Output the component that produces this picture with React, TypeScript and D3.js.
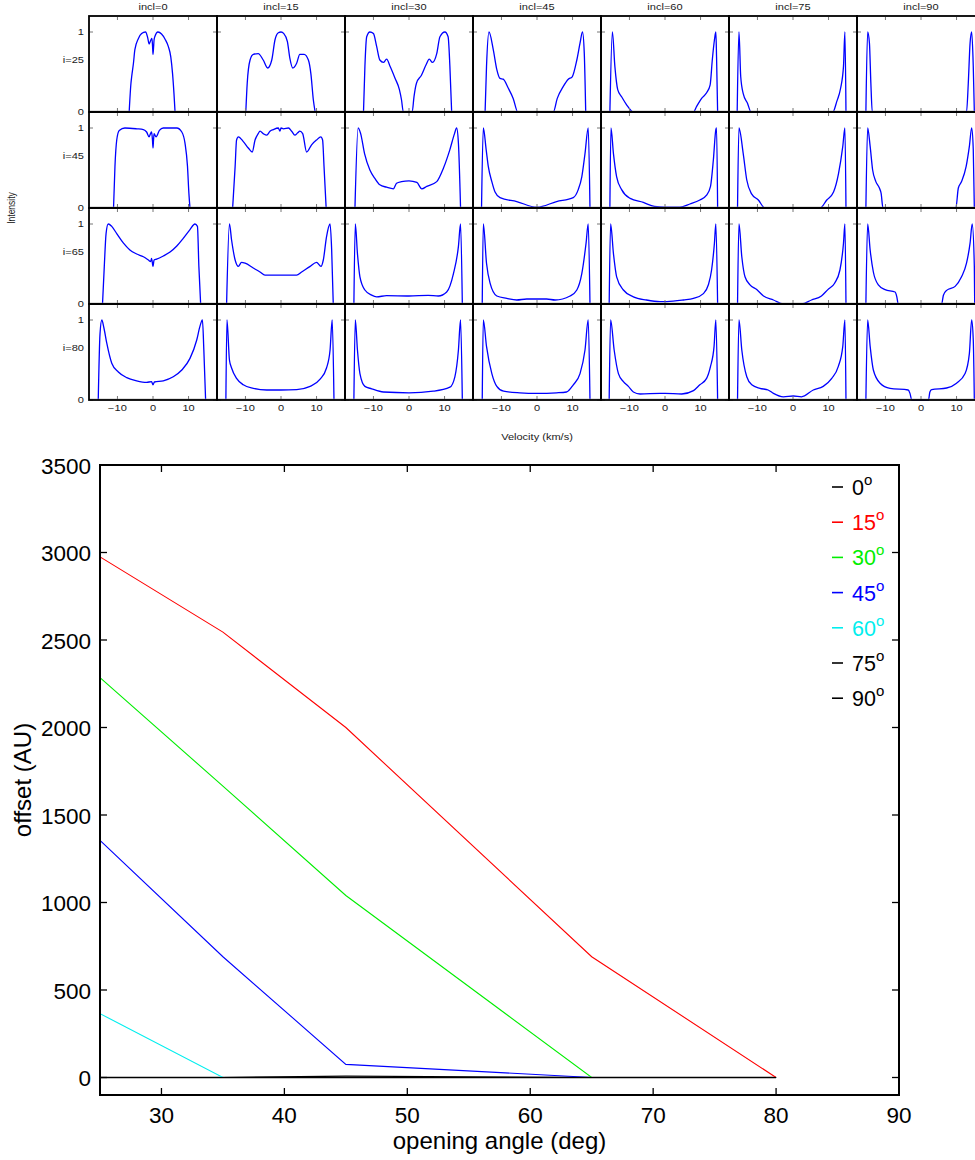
import React from 'react';
import * as d3 from 'd3';

// ---------- top grid: line profiles (velocity km/s, normalised intensity) ----------
const inclinations = [0, 15, 30, 45, 60, 75, 90];
const viewAngles = [25, 45, 65, 80];
const velocityTicks = [-10, 0, 10];
const intensityTicks = [0, 1];

type P = [number, number][];

const p25_0: P = [[-6.7,0],[-6.2,0.36],[-6.0,0.44],[-5.5,0.61],[-5.1,0.78],[-4.1,0.92],[-3.2,0.98],[-2.1,1.0],[-1.5,0.93],[-1.1,0.85],[-0.6,0.9],[-0.3,0.92],[-0.1,0.8],[0,0.72],[0.15,0.8],[0.3,0.9],[0.5,0.94],[1.4,1.0],[2.4,0.975],[3.4,0.91],[4.3,0.82],[5.0,0.69],[5.5,0.48],[5.9,0.23],[6.2,0]];
const p25_15: P = [[-9.9,0],[-9.5,0.36],[-8.7,0.65],[-7.8,0.72],[-6.4,0.73],[-5.0,0.65],[-3.75,0.55],[-2.6,0.65],[-1.7,0.9],[-0.75,0.99],[0,1.0],[0.8,0.98],[1.8,0.88],[2.5,0.67],[3.3,0.55],[4.4,0.61],[5.3,0.72],[6.5,0.72],[7.7,0.65],[8.4,0.48],[9.1,0.15],[9.6,0]];
const p25_30: P = [[-12.8,0],[-12.4,0.57],[-11.9,0.94],[-11.0,1.0],[-10.0,0.98],[-9.1,0.82],[-8.2,0.65],[-7.2,0.62],[-6.3,0.66],[-5.3,0.57],[-3.9,0.42],[-2.7,0.28],[-2.1,0.15],[-1.6,0],[0.9,0],[1.4,0.19],[2.1,0.36],[3.5,0.46],[4.8,0.59],[5.7,0.66],[6.6,0.62],[7.8,0.73],[8.7,0.94],[10.1,1.0],[11.0,0.94],[11.5,0.57],[12.0,0]];
const p25_45: P = [[-14.6,0],[-14.2,0.57],[-13.5,1.0],[-12.3,0.78],[-11.3,0.53],[-10.4,0.42],[-9.5,0.41],[-8.1,0.3],[-6.7,0.17],[-5.4,0],[4.6,0],[5.7,0.17],[7.4,0.32],[8.8,0.41],[9.9,0.44],[11.2,0.65],[12.1,0.86],[12.8,1.0],[13.3,0.73],[13.7,0]];
const p25_60: P = [[-15.5,0],[-14.8,1.0],[-14.1,0.57],[-13.3,0.28],[-12.2,0.19],[-10.8,0.09],[-8.9,0],[8.0,0],[8.9,0.07],[10.3,0.17],[11.7,0.24],[12.7,0.34],[13.3,0.65],[13.9,0.9],[14.3,1.0],[14.5,0.69],[14.8,0]];
const p25_75: P = [[-15.7,0],[-15.2,1.0],[-14.7,0.44],[-14.0,0.23],[-12.8,0.11],[-11.8,0],[11.2,0],[12.3,0.13],[13.4,0.3],[14.2,0.57],[14.6,1.0],[14.9,0]];
const p25_90: P = [[-15.5,0],[-15.0,1.0],[-14.5,0.86],[-14.1,0.36],[-13.7,0],[12.8,0],[13.3,0.36],[13.8,0.86],[14.25,1.0],[14.7,0.57],[15.0,0]];

const p45_0: P = [[-11.1,0],[-10.7,0.52],[-10.2,0.85],[-9.5,0.97],[-7.9,1.0],[-4.6,0.99],[-2.7,0.98],[-1.8,0.95],[-1.1,0.89],[-0.7,0.93],[-0.4,0.95],[-0.15,0.85],[0,0.75],[0.15,0.85],[0.3,0.93],[0.85,0.89],[1.8,0.97],[2.9,1.0],[6.7,1.0],[8.1,0.95],[9.0,0.81],[9.7,0.52],[10.1,0.18],[10.4,0]];
const p45_15: P = [[-13.6,0],[-12.9,0.52],[-12.5,0.85],[-12.0,0.89],[-10.6,0.83],[-9.2,0.75],[-8.1,0.7],[-7.3,0.85],[-6.4,0.93],[-5.9,0.96],[-5.0,0.93],[-4.0,0.91],[-3.1,0.96],[-2.2,0.98],[-0.75,1.0],[-0.3,0.96],[0,1.0],[0.7,0.99],[2.1,1.0],[3.0,0.96],[3.9,0.91],[4.7,0.94],[5.3,0.96],[6.1,0.93],[7.2,0.7],[8.6,0.79],[10.0,0.85],[11.2,0.89],[11.7,0.85],[12.1,0.52],[12.7,0]];
const p45_30: P = [[-15.2,0],[-14.3,1.0],[-13.6,0.93],[-12.5,0.68],[-11.0,0.475],[-9.6,0.37],[-8.2,0.29],[-6.3,0.26],[-4.4,0.24],[-3.5,0.31],[-2.1,0.33],[0,0.34],[2.2,0.32],[3.6,0.24],[5.0,0.27],[7.8,0.33],[9.7,0.5],[11.5,0.73],[12.8,0.93],[13.4,1.0],[13.9,0.81],[14.5,0]];
const p45_45: P = [[-15.6,0],[-15.1,1.0],[-14.3,0.73],[-13.7,0.52],[-12.7,0.33],[-11.8,0.2],[-10.4,0.13],[-5.7,0.08],[0,0.01],[5.5,0.08],[10.2,0.13],[11.6,0.23],[12.6,0.39],[13.5,0.68],[14.4,1.0],[14.9,0]];
const p45_60: P = [[-15.5,0],[-15.2,1.0],[-14.5,0.68],[-13.6,0.39],[-12.2,0.23],[-9.8,0.12],[-6.1,0.07],[-3.0,0.02],[0,0.01],[4.2,0.01],[7.0,0.05],[9.8,0.1],[11.7,0.16],[12.8,0.27],[13.6,0.6],[14.3,0.98],[14.5,1.0],[14.8,0]];
const p45_75: P = [[-15.6,0],[-15.2,1.0],[-14.0,0.68],[-13.0,0.35],[-11.7,0.18],[-9.75,0.1],[-7.9,0],[7.6,0],[9.5,0.1],[11.4,0.2],[12.8,0.43],[14.0,0.77],[14.6,1.0],[14.9,0]];
const p45_90: P = [[-15.5,0],[-15.0,1.0],[-14.3,0.77],[-13.6,0.475],[-12.7,0.33],[-11.7,0.25],[-11.2,0.18],[-10.7,0],[9.8,0],[10.5,0.25],[11.4,0.33],[12.7,0.52],[13.6,0.77],[14.25,1.0],[14.7,0.73],[15.0,0]];

const p65_0: P = [[-14.2,0],[-13.7,0.47],[-13.2,0.88],[-12.6,1.0],[-11.6,0.97],[-10.2,0.88],[-8.3,0.76],[-6.5,0.675],[-4.6,0.625],[-2.7,0.59],[-1.3,0.55],[-0.65,0.53],[-0.4,0.57],[0,0.47],[0.3,0.55],[1.0,0.56],[2.9,0.6],[4.8,0.65],[6.7,0.725],[8.5,0.82],[10.4,0.93],[11.8,1.0],[12.5,0.97],[12.9,0.47],[13.4,0]];
const p65_15: P = [[-15.3,0],[-14.5,1.0],[-13.9,0.8],[-12.9,0.55],[-12.0,0.47],[-11.1,0.52],[-10.1,0.51],[-7.8,0.45],[-5.9,0.4],[-4.5,0.36],[0,0.36],[4.4,0.36],[5.8,0.4],[8.2,0.47],[10.0,0.52],[11.25,0.47],[11.9,0.55],[12.8,0.84],[13.8,1.0],[14.25,0.675],[14.7,0]];
const p65_30: P = [[-15.5,0],[-15.1,1.0],[-14.5,0.63],[-13.8,0.34],[-12.4,0.175],[-10.5,0.11],[-9.1,0.09],[-6.3,0.104],[0,0.1],[5.4,0.108],[8.25,0.1],[10.6,0.15],[12.5,0.38],[13.9,0.72],[14.5,1.0],[15.0,0]];
const p65_45: P = [[-15.4,0],[-15.1,1.0],[-14.2,0.51],[-13.2,0.26],[-11.3,0.1],[-8.5,0.07],[-5.7,0.05],[-2.9,0.0625],[2.7,0.0625],[5.1,0.05],[9.3,0.1],[11.2,0.175],[12.6,0.38],[13.8,0.76],[14.4,1.0],[14.9,0]];
const p65_60: P = [[-15.7,0],[-15.3,1.0],[-14.5,0.63],[-13.6,0.34],[-11.7,0.175],[-8.9,0.09],[-5.2,0.05],[-1.4,0.03],[0.5,0.03],[5.2,0.05],[8.0,0.07],[10.8,0.13],[12.2,0.24],[13.1,0.425],[13.9,0.76],[14.3,1.0],[14.8,0]];
const p65_75: P = [[-15.6,0],[-15.2,1.0],[-14.4,0.59],[-13.5,0.34],[-12.1,0.24],[-10.2,0.18],[-8.3,0.1],[-5.5,0.05],[-2.7,0],[2.4,0],[5.2,0.05],[8.0,0.1],[9.8,0.18],[11.7,0.26],[13.2,0.425],[14.2,0.76],[14.6,1.0],[14.9,0]];
const p65_90: P = [[-15.5,0],[-15.0,1.0],[-14.3,0.675],[-13.4,0.4],[-12.0,0.24],[-10.1,0.18],[-7.3,0.15],[-6.8,0.09],[-6.4,0],[5.8,0],[6.3,0.11],[7.2,0.17],[9.6,0.22],[11.4,0.34],[12.8,0.51],[13.8,0.76],[14.4,1.0],[15.0,0.47],[15.1,0]];

const p80_0: P = [[-15.4,0],[-14.9,0.83],[-14.4,1.0],[-13.8,0.9],[-13.0,0.71],[-11.6,0.46],[-9.75,0.35],[-7.4,0.28],[-4.6,0.24],[-1.8,0.22],[-0.4,0.23],[0,0.19],[0.4,0.225],[2.9,0.24],[5.7,0.29],[8.1,0.375],[10.4,0.52],[12.3,0.75],[13.2,0.92],[13.9,1.0],[14.3,0.625],[14.8,0]];
const p80_15: P = [[-15.5,0],[-15.2,1.0],[-14.5,0.5],[-13.9,0.4],[-12.5,0.27],[-10.6,0.19],[-7.8,0.146],[-4.0,0.125],[0,0.125],[4.4,0.13],[8.2,0.17],[11.0,0.26],[12.8,0.4],[13.8,0.625],[14.4,1.0],[14.9,0]];
const p80_30: P = [[-15.5,0],[-15.1,1.0],[-14.5,0.625],[-13.8,0.33],[-12.4,0.17],[-10.5,0.14],[-7.2,0.1],[0,0.09],[6.8,0.11],[11.5,0.16],[12.9,0.29],[13.9,0.625],[14.5,1.0],[15.0,0]];
const p80_45: P = [[-15.4,0],[-15.1,1.0],[-14.2,0.67],[-12.7,0.33],[-11.3,0.17],[-9.4,0.11],[-4.8,0.09],[0,0.083],[5.5,0.09],[8.3,0.1],[10.2,0.19],[12.1,0.33],[13.5,0.625],[14.4,1.0],[14.9,0]];
const p80_60: P = [[-15.7,0],[-15.3,1.0],[-14.3,0.625],[-13.1,0.33],[-11.7,0.23],[-10.3,0.17],[-8.9,0.1],[-7.0,0.075],[-1.4,0.083],[0,0.083],[4.7,0.075],[8.0,0.117],[9.8,0.19],[11.7,0.27],[12.8,0.42],[13.8,0.67],[14.3,1.0],[14.8,0]];
const p80_75: P = [[-15.6,0],[-15.2,1.0],[-14.4,0.625],[-13.0,0.29],[-11.6,0.19],[-9.3,0.146],[-7.0,0.125],[-5.5,0.083],[-2.7,0.04],[0.1,0.05],[2.4,0.04],[5.7,0.125],[8.5,0.17],[10.9,0.27],[12.75,0.42],[14.0,0.67],[14.6,1.0],[14.9,0]];
const p80_90: P = [[-15.5,0],[-15.0,1.0],[-14.3,0.67],[-13.4,0.375],[-11.5,0.21],[-8.7,0.146],[-3.6,0.125],[-3.1,0.083],[-2.6,0],[2.1,0],[2.5,0.1],[3.0,0.13],[7.2,0.15],[10.0,0.21],[12.4,0.33],[13.6,0.58],[14.25,1.0],[14.7,0.75],[15.0,0]];

const profileGrid: P[][] = [
  [p25_0, p25_15, p25_30, p25_45, p25_60, p25_75, p25_90],
  [p45_0, p45_15, p45_30, p45_45, p45_60, p45_75, p45_90],
  [p65_0, p65_15, p65_30, p65_45, p65_60, p65_75, p65_90],
  [p80_0, p80_15, p80_30, p80_45, p80_60, p80_75, p80_90],
];

// ---------- bottom chart: offset vs opening angle ----------
const openingAngles = [25, 35, 45, 65, 80];
const offset0 = [0, 0, 0, 0, 0];
const offset15 = [2975, 2545, 2000, 690, 0];
const offset30 = [2285, 1665, 1040, 0, 0];
const offset45 = [1355, 690, 75, 0, 0];
const offset60 = [365, 0, 0, 0, 0];
const offset75 = [0, 0, 8, 0, 0];
const offset90 = [0, 0, 0, 0, 0];
const offsetSeries = [offset0, offset15, offset30, offset45, offset60, offset75, offset90];
const seriesLabels = ['0', '15', '30', '45', '60', '75', '90'];
const seriesColors = ['#000000', '#ff0000', '#00ee00', '#0000ff', '#00eeee', '#000000', '#000000'];
const offsetTicks = [0, 500, 1000, 1500, 2000, 2500, 3000, 3500];
const angleTicks = [30, 40, 50, 60, 70, 80, 90];

const FONT = '"Liberation Sans", Arial, Helvetica, sans-serif';

export default function App() {
  const W = 975, H = 1160;
  // grid geometry
  const gL = 89, gT = 16, cw = 128, ch = 96;
  const sx = 1.3; // horizontal stretch of small text
  const fs = 8.5;

  const panels: React.ReactNode[] = [];
  viewAngles.forEach((va, r) => {
    inclinations.forEach((inc, c) => {
      const x0 = gL + c * cw, y0 = gT + r * ch;
      const xs = d3.scaleLinear().domain([-18, 18]).range([x0, x0 + cw]);
      const ys = d3.scaleLinear().domain([0, 1.2]).range([y0 + ch, y0]);
      const line = d3.line<[number, number]>().x(d => xs(d[0])).y(d => ys(d[1])).curve(d3.curveMonotoneX);
      panels.push(
        <g key={`p${r}-${c}`}>
          <path d={line(profileGrid[r][c]) || ''} fill="none" stroke="#0000ff" strokeWidth={1.3} />
          <line x1={x0} x2={x0 + cw} y1={ys(0) - 0.8} y2={ys(0) - 0.8} stroke="#9a9a9a" strokeWidth={1} />
          {velocityTicks.map(t => (
            <g key={`vt${t}`}>
              <line x1={xs(t)} x2={xs(t)} y1={y0 + 1} y2={y0 + 4} stroke="#777" strokeWidth={1} />
              <line x1={xs(t)} x2={xs(t)} y1={y0 + ch - 1} y2={y0 + ch - 4} stroke="#777" strokeWidth={1} />
            </g>
          ))}
          {intensityTicks.map(t => (
            <g key={`it${t}`}>
              <line x1={x0 + 1} x2={x0 + 4} y1={ys(t)} y2={ys(t)} stroke="#777" strokeWidth={1} />
              <line x1={x0 + cw - 1} x2={x0 + cw - 4} y1={ys(t)} y2={ys(t)} stroke="#777" strokeWidth={1} />
            </g>
          ))}
          <rect x={x0} y={y0} width={cw} height={ch} fill="none" stroke="#000" strokeWidth={1.8} />
        </g>
      );
    });
  });

  const smallText = (key: string, x: number, y: number, s: string, anchor: string = 'middle', rot = false) => (
    <text key={key} transform={`translate(${x},${y}) scale(${sx},1)${rot ? ' rotate(-90)' : ''}`}
      textAnchor={anchor} fontSize={fs} fontFamily={FONT} fill="#1a1a1a">{s}</text>
  );

  const topTexts: React.ReactNode[] = [];
  inclinations.forEach((inc, c) => {
    const cx = gL + c * cw + cw / 2;
    topTexts.push(smallText(`ct${c}`, cx, 10, `incl=${inc}`));
    const xs = d3.scaleLinear().domain([-18, 18]).range([gL + c * cw, gL + c * cw + cw]);
    velocityTicks.forEach(t => topTexts.push(smallText(`xl${c}${t}`, xs(t), 411, t < 0 ? `\u2212${Math.abs(t)}` : `${t}`)));
  });
  viewAngles.forEach((va, r) => {
    const y0 = gT + r * ch;
    const ys = d3.scaleLinear().domain([0, 1.2]).range([y0 + ch, y0]);
    topTexts.push(smallText(`rl${r}`, 84, ys(0.65) + 3, `i=${va}`, 'end'));
    intensityTicks.forEach(t => topTexts.push(smallText(`yl${r}${t}`, 84, ys(t) + 3, `${t}`, 'end')));
  });
  topTexts.push(smallText('xlab', 537, 440, 'Velocity (km/s)'));
  topTexts.push(smallText('ylab', 15, 208, 'Intensity', 'middle', true));

  // bottom chart
  const bL = 100, bR = 899, bT = 465, bB = 1095;
  const x = d3.scaleLinear().domain([25, 90]).range([bL, bR]);
  const y = d3.scaleLinear().domain([-100, 3500]).range([bB, bT]);
  const lineGen = d3.line<number>().x((_, i) => x(openingAngles[i])).y(d => y(d));
  const legY0 = 495, legDy = 35.2;

  return (
    <svg width={W} height={H} style={{ position: 'absolute', left: 0, top: 0, background: '#fff' }}>
      <rect x={0} y={0} width={W} height={H} fill="#fff" />
      {panels}
      {topTexts}

      {/* bottom chart */}
      {offsetSeries.map((s, i) => (
        <path key={`s${i}`} d={lineGen(s) || ''} fill="none" stroke={seriesColors[i]} strokeWidth={i === 0 ? 1.6 : 1.1} />
      ))}
      <rect x={bL} y={bT} width={bR - bL} height={bB - bT} fill="none" stroke="#000" strokeWidth={2} />
      {offsetTicks.map(t => (
        <g key={`yt${t}`}>
          <line x1={bL} x2={bL + 7} y1={y(t)} y2={y(t)} stroke="#000" strokeWidth={1.3} />
          <line x1={bR} x2={bR - 7} y1={y(t)} y2={y(t)} stroke="#000" strokeWidth={1.3} />
          <text x={bL - 9} y={y(t) + 8.5} textAnchor="end" fontSize={22.5} fontFamily={FONT} fill="#000">{t}</text>
        </g>
      ))}
      {angleTicks.map(t => (
        <g key={`xt${t}`}>
          {t < 90 && <line x1={x(t)} x2={x(t)} y1={bB} y2={bB - 7} stroke="#000" strokeWidth={1.3} />}
          {t < 90 && <line x1={x(t)} x2={x(t)} y1={bT} y2={bT + 7} stroke="#000" strokeWidth={1.3} />}
          <text x={x(t)} y={1123} textAnchor="middle" fontSize={22.5} fontFamily={FONT} fill="#000">{t}</text>
        </g>
      ))}
      <text x={(bL + bR) / 2} y={1149} textAnchor="middle" fontSize={24} fontFamily={FONT} fill="#000">opening angle (deg)</text>
      <text transform={`translate(31,${(bT + bB) / 2}) rotate(-90)`} textAnchor="middle" fontSize={24} fontFamily={FONT} fill="#000">offset (AU)</text>

      {seriesLabels.map((lab, i) => {
        const by = legY0 + i * legDy;
        return (
          <g key={`lg${i}`}>
            <line x1={832} x2={843} y1={by - 8} y2={by - 8} stroke={seriesColors[i]} strokeWidth={1.6} />
            <text x={852} y={by} fontSize={21.5} fontFamily={FONT} fill={seriesColors[i]}>
              {lab}
              <tspan dy={-10} fontSize={15}>o</tspan>
            </text>
          </g>
        );
      })}
    </svg>
  );
}
